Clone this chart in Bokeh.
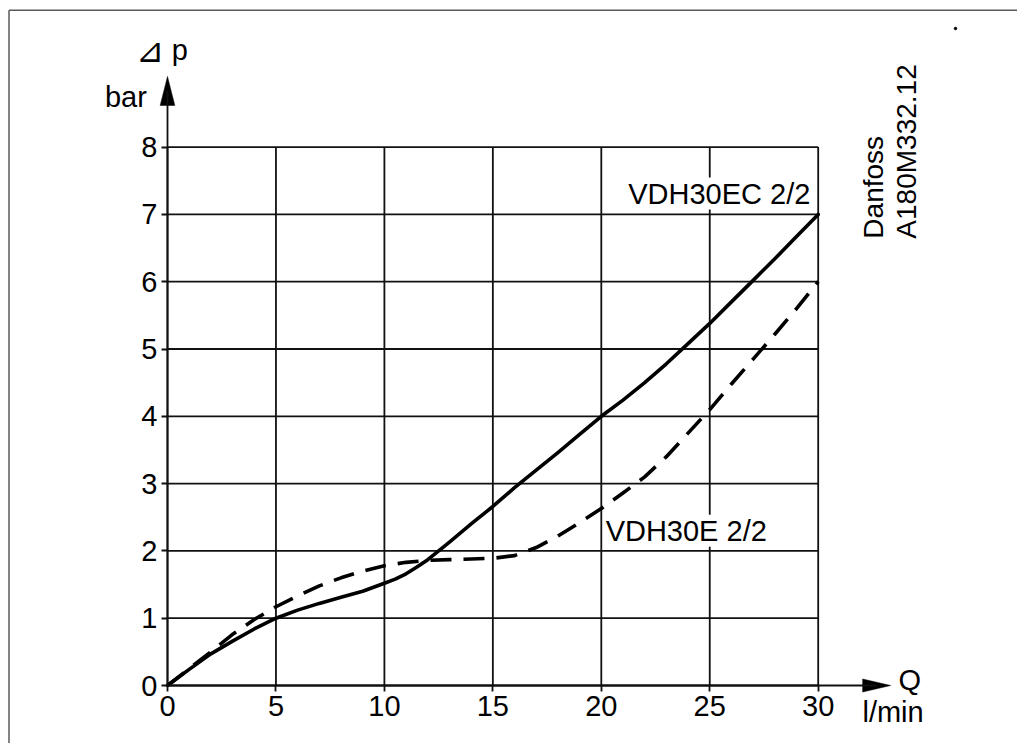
import math
from bokeh.plotting import figure
from bokeh.models import LinearAxis, FixedTicker, Label, Range1d
from bokeh.embed import file_html
from bokeh.resources import INLINE

# ---- data ----
q_ec = [0, 1, 2, 3, 4, 5, 6, 7, 8, 9, 10, 10.5, 11, 11.5, 12, 12.5, 13, 14, 15, 16, 17, 18, 19, 20,
        21, 22, 23, 24, 25, 26, 27, 28, 29, 30]
dp_ec = [0, 0.24, 0.47, 0.66, 0.84, 1.0, 1.12, 1.22, 1.31, 1.4, 1.52, 1.58, 1.66, 1.76, 1.87, 2.0,
         2.13, 2.4, 2.66, 2.94, 3.2, 3.46, 3.73, 4.0, 4.24, 4.5, 4.78, 5.08, 5.38, 5.7, 6.02, 6.34,
         6.67, 7.0]

q_e = [0, 1, 2, 3, 4, 5, 6, 7, 8, 9, 10, 11, 12, 13, 14, 15, 16, 17, 18, 19, 20, 21, 22, 23, 24, 25,
       26, 27, 28, 29, 30]
dp_e = [0, 0.25, 0.5, 0.76, 0.98, 1.17, 1.33, 1.48, 1.6, 1.7, 1.78, 1.83, 1.86, 1.87, 1.88, 1.89,
        1.93, 2.05, 2.22, 2.42, 2.63, 2.86, 3.1, 3.4, 3.75, 4.1, 4.48, 4.85, 5.22, 5.6, 6.0]

x_ticks = [0, 5, 10, 15, 20, 25, 30]
y_ticks = [0, 1, 2, 3, 4, 5, 6, 7, 8]

label_ec = "VDH30EC 2/2"
label_e = "VDH30E 2/2"
y_symbol = "\u22bf"
y_title = "p"
y_unit = "bar"
x_title = "Q"
x_unit = "l/min"
doc_line1 = "Danfoss"
doc_line2 = "A180M332.12"

# ---- layout ----
W, H = 1017, 743
px_x = 21.69   # pixels per x unit
px_y = 67.3    # pixels per y unit
X_LO = -167 / px_x
X_HI = X_LO + W / px_x
Y_HI = 685 / px_y
Y_LO = Y_HI - H / px_y

FONT = "Liberation Sans"
INK = "#111111"

p = figure(width=W, height=H, x_range=Range1d(X_LO, X_HI), y_range=Range1d(Y_LO, Y_HI),
           output_backend="svg", toolbar_location=None, x_axis_location=None,
           y_axis_location=None, min_border=0)
p.grid.visible = False
p.outline_line_color = None
p.background_fill_color = "white"
p.border_fill_color = "white"

# outer frame (left and top edges visible)
bx = X_LO + 8.5 / px_x
by = Y_HI - 9.7 / px_y
p.segment(x0=[bx, bx], y0=[Y_LO, by], x1=[bx, X_HI], y1=[by, by],
          line_color="#5a5a5a", line_width=1.5)
p.scatter(x=[X_LO + 955 / px_x], y=[Y_HI - 28 / px_y], size=2.5, color="black")

# grid
x_max, y_max = x_ticks[-1], y_ticks[-1]
p.segment(x0=x_ticks, y0=[0] * len(x_ticks), x1=x_ticks, y1=[y_max] * len(x_ticks),
          line_color=INK, line_width=1.8)
p.segment(x0=[0] * len(y_ticks), y0=y_ticks, x1=[x_max] * len(y_ticks), y1=y_ticks,
          line_color=INK, line_width=1.8)

# axes with arrows
x_arrow_tip = 33.34
y_arrow_tip = 9.05
x_head_len = 28 / px_x
y_head_len = 29 / px_y

xaxis = LinearAxis(fixed_location=0, bounds=(0, x_arrow_tip - x_head_len * 0.5),
                   ticker=FixedTicker(ticks=x_ticks))
yaxis = LinearAxis(fixed_location=0, bounds=(0, y_arrow_tip - y_head_len * 0.5),
                   ticker=FixedTicker(ticks=y_ticks))
for ax in (xaxis, yaxis):
    ax.axis_line_color = INK
    ax.axis_line_width = 1.8
    ax.major_tick_line_color = INK
    ax.major_tick_line_width = 1.8
    ax.major_tick_out = 6
    ax.major_tick_in = 0
    ax.minor_tick_line_color = None
    ax.major_label_text_font = FONT
    ax.major_label_text_font_size = "29px"
    ax.major_label_text_color = "black"
    ax.major_label_standoff = 4
p.add_layout(xaxis, "below")
p.add_layout(yaxis, "left")

# arrow heads
xh = 6.5 / px_y
yh = 7.3 / px_x
p.patch([x_arrow_tip - x_head_len, x_arrow_tip, x_arrow_tip - x_head_len],
        [-xh, 0, xh], color="black", line_width=0.5)
p.patch([-yh, 0, yh], [y_arrow_tip - y_head_len, y_arrow_tip, y_arrow_tip - y_head_len],
        color="black", line_width=0.5)

# curves
p.line(q_ec, dp_ec, line_color="black", line_width=3.6, line_join="round", line_cap="round")
p.line(q_e, dp_e, line_color="black", line_width=3.6, line_dash="21 12", line_join="round")

# texts
def lab(text, x, y, align="left", baseline="alphabetic", size="29px", angle=0.0, bg=None, font=FONT):
    l = Label(x=x, y=y, text=text, text_font=font, text_font_size=size, text_color="black",
              text_align=align, text_baseline=baseline, angle=angle)
    if bg:
        l.background_fill_color = bg
    p.add_layout(l)
    return l

lab(label_ec, 29.64, 7.31, align="right", bg="white")
lab(label_e, 20.2, 2.30, align="left", bg="white")
lab(y_symbol, -0.15, 9.45, align="right", size="34px", font="DejaVu Sans")
lab(y_title, 0.2, 9.45, align="left")
lab(y_unit, -0.95, 8.75, align="right")
lab(x_title, 33.7, 0.075, align="left")
lab(x_unit, 32.04, -0.40, align="left")
lab(doc_line1, 32.54, 6.64, align="left", size="28px", angle=math.pi / 2)
lab(doc_line2, 34.07, 6.64, align="left", size="28px", angle=math.pi / 2)

open("out.html", "w").write(file_html(p, INLINE))
